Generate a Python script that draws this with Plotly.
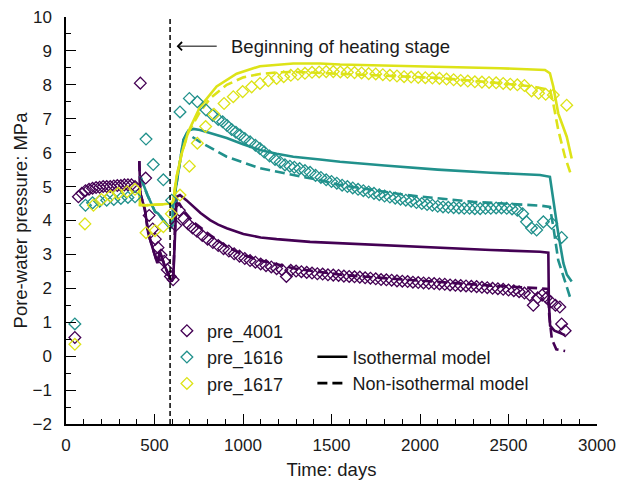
import plotly.graph_objects as go

# ---------------- data ----------------
HEAT_START = 588

# measured points (markers)
t_4001 = [50, 70, 90, 110, 130, 150, 170, 190, 210, 230, 250, 270, 290, 310, 330, 350, 370, 390,
          420, 450, 470, 490, 505, 520, 537, 555, 572, 590, 605,
          620, 640, 665, 690, 715, 740, 770, 800, 830, 860, 890, 920, 950, 980, 1010, 1040, 1070,
          1100, 1130, 1160, 1190, 1220, 1245, 1270, 1300, 1330, 1360, 1390, 1420, 1450, 1480,
          1510, 1540, 1570, 1600, 1630, 1660, 1690, 1720, 1750, 1780, 1810, 1840, 1870, 1900,
          1930, 1960, 1990, 2020, 2050, 2080, 2110, 2140, 2170, 2200, 2230, 2260, 2290, 2320,
          2350, 2380, 2410, 2440, 2470, 2500, 2530, 2560, 2590, 2620, 2640, 2665, 2690, 2715,
          2740, 2765, 2790, 2800, 2820]
p_4001 = [0.55, 4.7, 4.8, 4.88, 4.92, 4.95, 4.97, 4.98, 5.0, 5.0, 5.0, 5.02, 5.03, 5.03, 5.05, 5.05, 5.05, 5.0,
          8.05, 5.25, 4.15, 3.75, 3.45, 3.2, 2.98, 2.8, 2.55, 2.35, 2.25,
          3.85, 4.3, 4.05, 3.9, 3.78, 3.68, 3.56, 3.45, 3.35, 3.26, 3.17, 3.1, 3.02, 2.95, 2.88, 2.82, 2.77,
          2.72, 2.67, 2.63, 2.58, 2.55, 2.35, 2.53, 2.51, 2.49, 2.47, 2.45, 2.43, 2.42, 2.4,
          2.39, 2.38, 2.36, 2.35, 2.34, 2.33, 2.31, 2.3, 2.28, 2.26, 2.25, 2.24, 2.22, 2.21,
          2.2, 2.18, 2.17, 2.16, 2.15, 2.14, 2.13, 2.12, 2.1, 2.09, 2.08, 2.07, 2.06, 2.05,
          2.03, 2.02, 2.0, 1.99, 1.97, 1.95, 1.93, 1.9, 1.86, 1.8, 1.5, 1.72, 1.8, 1.72,
          1.6, 1.5, 1.45, 0.95, 0.75]

t_1616 = [50, 110, 150, 190, 230, 270, 310, 350, 390,
          452, 493, 550, 597,
          644, 697, 742, 791, 829, 860, 885, 910, 936, 960, 983, 1010, 1040, 1070, 1096, 1120,
          1150, 1181, 1210, 1237, 1265, 1290, 1320, 1350, 1379, 1410, 1440, 1470, 1500, 1530,
          1560, 1590, 1620, 1650, 1680, 1710, 1740, 1770, 1800, 1830, 1860, 1890, 1920, 1950,
          1980, 2010, 2040, 2070, 2100, 2130, 2160, 2190, 2220, 2250, 2280, 2310, 2340, 2370,
          2400, 2430, 2460, 2490, 2520, 2550, 2580, 2602, 2630, 2659, 2697, 2744, 2800]
p_1616 = [0.95, 4.45, 4.52, 4.57, 4.6, 4.62, 4.65, 4.68, 4.7,
          6.4, 5.65, 5.2, 4.6,
          7.2, 7.6, 7.5, 7.26, 7.1, 6.98, 6.91, 6.8, 6.68, 6.6, 6.52, 6.42, 6.32, 6.22, 6.12, 6.02,
          5.9, 5.8, 5.72, 5.64, 5.6, 5.57, 5.53, 5.47, 5.42, 5.33, 5.27, 5.2, 5.15, 5.1,
          5.04, 5.0, 4.96, 4.92, 4.88, 4.84, 4.8, 4.76, 4.72, 4.69, 4.66, 4.63, 4.6, 4.57,
          4.53, 4.5, 4.47, 4.45, 4.42, 4.4, 4.39, 4.38, 4.37, 4.36, 4.36, 4.35, 4.35, 4.36,
          4.36, 4.37, 4.37, 4.36, 4.34, 4.3, 4.2, 3.96, 3.78, 3.72, 3.96, 3.92, 3.5]

t_1617 = [50, 107, 155, 200, 250, 295, 345, 390,
          452, 503, 550, 595,
          644, 697, 742, 789, 836, 893, 945, 998, 1049, 1096, 1143, 1190, 1230, 1270, 1310,
          1350, 1390, 1430, 1470, 1510, 1550, 1590, 1630, 1670, 1710, 1750, 1790, 1830, 1870,
          1910, 1950, 1990, 2030, 2070, 2110, 2150, 2190, 2230, 2270, 2310, 2350, 2390, 2430,
          2470, 2510, 2550, 2590, 2630, 2670, 2710, 2753, 2829]
p_1617 = [0.35, 3.9, 4.45, 4.62, 4.72, 4.8, 4.85, 4.92,
          3.64, 3.7, 3.82, 4.2,
          4.75, 5.6, 6.28, 6.77, 7.13, 7.45, 7.65, 7.8, 7.94, 8.04, 8.12, 8.19, 8.24, 8.28, 8.31,
          8.34, 8.37, 8.38, 8.39, 8.39, 8.38, 8.37, 8.36, 8.35, 8.33, 8.32, 8.3, 8.28, 8.26,
          8.24, 8.23, 8.22, 8.21, 8.2, 8.19, 8.17, 8.15, 8.13, 8.11, 8.09, 8.08, 8.07, 8.06,
          8.04, 8.02, 8.0, 7.98, 7.82, 7.75, 7.72, 7.7, 7.4]

# model curves: isothermal (solid) and non-isothermal (dashed)
t_iso_4001 = [414, 416, 420, 446, 465, 493, 516, 531, 559, 597, 606, 625, 644, 680, 719, 760, 814,
              860, 908, 1002, 1100, 1190, 1379, 1661, 2000, 2400, 2678, 2725, 2728, 2735, 2760, 2800, 2820]
p_iso_4001 = [5.75, 5.1, 4.8, 4.31, 3.62, 3.13, 2.74, 3.08, 2.64, 2.2, 2.3, 4.7, 4.75, 4.6, 4.41, 4.22, 4.01,
              3.88, 3.77, 3.6, 3.5, 3.45, 3.37, 3.3, 3.22, 3.13, 3.08, 3.05, 1.6, 0.9, 0.75, 0.65, 0.62]
t_non_4001 = [414, 416, 420, 446, 465, 493, 516, 531, 559, 597, 606, 620, 640, 663, 719, 814, 908,
              1002, 1096, 1284, 1567, 1800, 2100, 2400, 2678, 2725, 2730, 2745, 2770, 2820]
p_non_4001 = [5.75, 5.1, 4.8, 4.31, 3.62, 3.13, 2.74, 3.08, 2.64, 2.2, 2.3, 4.5, 4.5, 4.3, 3.96, 3.57, 3.23,
              2.98, 2.83, 2.59, 2.39, 2.3, 2.18, 2.08, 2.0, 1.98, 1.2, 0.5, 0.2, 0.15]

t_iso_1616 = [420, 460, 503, 520, 550, 588, 600, 606, 616, 635, 663, 691, 720, 757, 830, 908, 1000,
              1096, 1190, 1284, 1435, 1548, 1800, 2100, 2400, 2678, 2734, 2753, 2781, 2810, 2830, 2857]
p_iso_1616 = [5.3, 4.75, 4.26, 4.21, 4.01, 3.77, 3.85, 4.5, 4.8, 5.49, 6.37, 6.65, 6.7, 6.67, 6.55, 6.43, 6.25,
              6.08, 5.97, 5.88, 5.8, 5.73, 5.62, 5.5, 5.41, 5.34, 5.29, 4.6, 3.62, 2.74, 2.4, 2.2]
t_non_1616 = [420, 460, 503, 520, 550, 588, 600, 606, 616, 635, 663, 682, 757, 908, 1096, 1284, 1435,
              1548, 1925, 2301, 2678, 2734, 2753, 2781, 2810, 2847]
p_non_1616 = [5.3, 4.75, 4.26, 4.21, 4.01, 3.77, 3.85, 4.5, 4.8, 5.49, 6.37, 6.57, 6.32, 5.88, 5.54, 5.34, 5.19,
              5.05, 4.75, 4.55, 4.44, 4.4, 3.82, 2.83, 2.34, 1.75]

t_iso_1617 = [415, 418, 450, 503, 550, 588, 600, 606, 625, 654, 691, 757, 851, 964, 1096, 1284, 1435,
              1548, 2000, 2452, 2706, 2734, 2753, 2781, 2829, 2857]
p_iso_1617 = [4.95, 4.46, 4.45, 4.46, 4.48, 4.5, 4.5, 4.6, 5.29, 5.98, 6.62, 7.35, 7.95, 8.33, 8.55, 8.63, 8.63,
              8.6, 8.55, 8.49, 8.44, 8.34, 7.95, 7.16, 6.47, 5.83]
t_non_1617 = [415, 418, 450, 503, 550, 588, 600, 606, 625, 654, 691, 757, 814, 908, 1002, 1096, 1200,
              1300, 1548, 1800, 2113, 2452, 2640, 2734, 2753, 2781, 2819, 2857]
p_non_1617 = [4.95, 4.46, 4.45, 4.46, 4.48, 4.5, 4.5, 4.6, 5.29, 5.98, 6.6, 7.2, 7.6, 8.0, 8.22, 8.32, 8.37,
              8.38, 8.33, 8.28, 8.2, 8.05, 7.95, 7.85, 7.45, 6.67, 5.88, 5.29]

names = ["pre_4001", "pre_1616", "pre_1617"]
colors = ["#440154", "#21918c", "#dde318"]
legend_labels = ["Isothermal model", "Non-isothermal model"]
x_ticks = [0, 500, 1000, 1500, 2000, 2500, 3000]
y_ticks = [-2, -1, 0, 1, 2, 3, 4, 5, 6, 7, 8, 9, 10]

# ---------------- figure ----------------
FONT = "Liberation Sans, Arial, sans-serif"
TXT = "#1a1a1a"
TICK_SIZE = 17
LABEL_SIZE = 18.5
fig = go.Figure()

meas = [(t_4001, p_4001), (t_1616, p_1616), (t_1617, p_1617)]
iso = [(t_iso_4001, p_iso_4001), (t_iso_1616, p_iso_1616), (t_iso_1617, p_iso_1617)]
non = [(t_non_4001, p_non_4001), (t_non_1616, p_non_1616), (t_non_1617, p_non_1617)]

DASH = "10px,5px"
for i in range(3):
    fig.add_trace(go.Scatter(x=non[i][0], y=non[i][1], mode="lines",
                             line=dict(color=colors[i], width=2.6, dash=DASH),
                             showlegend=False, hoverinfo="skip"))
    fig.add_trace(go.Scatter(x=iso[i][0], y=iso[i][1], mode="lines",
                             line=dict(color=colors[i], width=2.6),
                             showlegend=False, hoverinfo="skip"))

for i in range(3):
    fig.add_trace(go.Scatter(x=meas[i][0], y=meas[i][1], mode="markers", name=names[i],
                             marker=dict(symbol="diamond-open", size=9, color=colors[i],
                                         line=dict(width=1.3, color=colors[i])),
                             legend="legend", legendgroup=names[i]))

fig.add_trace(go.Scatter(x=[None], y=[None], mode="lines", name=legend_labels[0],
                         line=dict(color="black", width=2.6), legend="legend2",
                         legendgroup="iso"))
fig.add_trace(go.Scatter(x=[None], y=[None], mode="lines", name=legend_labels[1],
                         line=dict(color="black", width=2.6, dash=DASH), legend="legend2",
                         legendgroup="non"))

# beginning of heating stage
fig.add_shape(type="line", x0=HEAT_START, x1=HEAT_START, y0=-2, y1=10, xref="x", yref="y",
              line=dict(color="black", width=1.5, dash="5px,3px"))
fig.add_annotation(x=625, y=9.14, ax=860, ay=9.14, xref="x", yref="y", axref="x", ayref="y",
                   text="", showarrow=True, arrowhead=4, arrowsize=1.6, arrowwidth=1, arrowcolor="black")
fig.add_annotation(x=920, y=9.14, xref="x", yref="y", text="Beginning of heating stage",
                   showarrow=False, xanchor="left", yanchor="middle",
                   font=dict(family=FONT, size=LABEL_SIZE, color=TXT))

axis_common = dict(showline=True, linecolor="black", linewidth=1.5, ticks="inside",
                   tickcolor="black", tickwidth=1.2, ticklen=10, showgrid=False, zeroline=False,
                   mirror=False, automargin=False, tickfont=dict(family=FONT, size=TICK_SIZE, color=TXT))

fig.update_xaxes(range=[0, 3000], tickvals=x_ticks, ticklabelstandoff=5,
                 minor=dict(ticks="inside", ticklen=5, dtick=100, tickcolor="black", tickwidth=1.2),
                 title=dict(text="Time: days", font=dict(family=FONT, size=LABEL_SIZE, color=TXT), standoff=9),
                 **axis_common)
fig.update_yaxes(range=[-2, 10], tickvals=y_ticks, ticklabelstandoff=9,
                 minor=dict(ticks="inside", ticklen=5, dtick=0.5, tickcolor="black", tickwidth=1.2),
                 title=dict(text="Pore-water pressure: MPa", font=dict(family=FONT, size=LABEL_SIZE, color=TXT),
                            standoff=0),
                 **axis_common)

fig.update_layout(
    width=636, height=482,
    margin=dict(l=66, r=39, t=17, b=58, autoexpand=False),
    plot_bgcolor="white", paper_bgcolor="white",
    font=dict(family=FONT, size=16, color=TXT),
    legend=dict(x=0.19, y=0.274, xanchor="left", yanchor="top", bgcolor="rgba(0,0,0,0)",
                font=dict(family=FONT, size=18, color=TXT), tracegroupgap=0, itemsizing="trace"),
    legend2=dict(x=0.464, y=0.210, xanchor="left", yanchor="top", bgcolor="rgba(0,0,0,0)",
                 font=dict(family=FONT, size=18, color=TXT), tracegroupgap=0),
)

fig.write_html("out.html")
